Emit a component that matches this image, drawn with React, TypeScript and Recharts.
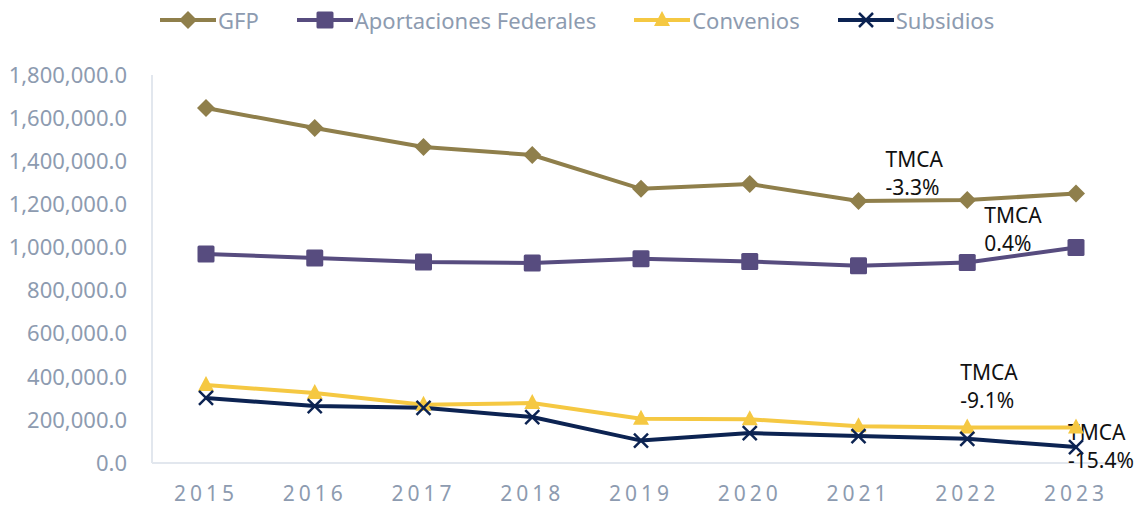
import React from "react";
import {
  LineChart,
  Line,
  XAxis,
  YAxis,
  Legend,
  ReferenceDot,
} from "recharts";

const years = ["2015", "2016", "2017", "2018", "2019", "2020", "2021", "2022", "2023"];
const gfp = [1647000, 1554000, 1466000, 1429000, 1272000, 1294000, 1216000, 1220000, 1250000];
const aportaciones = [970000, 951000, 932000, 928000, 948000, 935000, 915000, 930000, 1000000];
const convenios = [362000, 325000, 270000, 278000, 205000, 203000, 170000, 165000, 165000];
const subsidios = [302000, 264000, 256000, 213000, 104000, 139000, 125000, 112000, 74000];
const yTicks = [0, 200000, 400000, 600000, 800000, 1000000, 1200000, 1400000, 1600000, 1800000];
const tmca = ["-3.3%", "0.4%", "-9.1%", "-15.4%"];

const data = years.map((year, i) => ({
  year,
  GFP: gfp[i],
  "Aportaciones Federales": aportaciones[i],
  Convenios: convenios[i],
  Subsidios: subsidios[i],
}));

const FONT = "'Noto Sans', 'Open Sans', sans-serif";
const AXIS_TEXT = "#8D9BB0";
const AXIS_LINE = "#E2E7EE";

const series = [
  { key: "GFP", color: "#8F7F4B", shape: "diamond" },
  { key: "Aportaciones Federales", color: "#574C7F", shape: "square" },
  { key: "Convenios", color: "#F5C842", shape: "triangle" },
  { key: "Subsidios", color: "#0C2352", shape: "cross" },
];

function Marker({ shape, cx, cy, color }: { shape: string; cx: number; cy: number; color: string }) {
  if (shape === "diamond") {
    return (
      <polygon
        points={`${cx},${cy - 9} ${cx + 9},${cy} ${cx},${cy + 9} ${cx - 9},${cy}`}
        fill={color}
      />
    );
  }
  if (shape === "square") {
    return <rect x={cx - 8.5} y={cy - 8.5} width={17} height={17} rx={1.5} fill={color} />;
  }
  if (shape === "triangle") {
    return (
      <polygon
        points={`${cx},${cy - 9} ${cx + 8},${cy + 6} ${cx - 8},${cy + 6}`}
        fill={color}
      />
    );
  }
  return (
    <g stroke={color} strokeWidth={2.5}>
      <line x1={cx - 7} y1={cy - 7} x2={cx + 7} y2={cy + 7} />
      <line x1={cx - 7} y1={cy + 7} x2={cx + 7} y2={cy - 7} />
    </g>
  );
}

function makeDot(shape: string, color: string) {
  return (props: any) => {
    const { cx, cy, index } = props;
    if (cx == null || cy == null) return <g key={`d-${index}`} />;
    return (
      <g key={`d-${shape}-${index}`}>
        <Marker shape={shape} cx={cx} cy={cy} color={color} />
      </g>
    );
  };
}

function LegendContent() {
  return (
    <div
      style={{
        display: "flex",
        alignItems: "center",
        height: 40,
        paddingLeft: 160,
        fontFamily: FONT,
        fontSize: 22,
        color: AXIS_TEXT,
      }}
    >
      {series.map((s) => (
        <div key={s.key} style={{ display: "flex", alignItems: "center", marginRight: 38 }}>
          <svg width={56} height={22} style={{ marginRight: 2 }}>
            <line x1={0} y1={11} x2={56} y2={11} stroke={s.color} strokeWidth={4} />
            <Marker shape={s.shape} cx={28} cy={11} color={s.color} />
          </svg>
          <span>{s.key}</span>
        </div>
      ))}
    </div>
  );
}

function tmcaLabel(text: string, dx: number, dy: number) {
  return (props: any) => {
    const vb = props.viewBox || {};
    const x = vb.x + dx;
    const y = vb.y + dy;
    return (
      <g>
        <text x={x} y={y} fill="#111" fontSize={21} fontFamily={FONT} dominantBaseline="central">
          TMCA
        </text>
        <text x={x} y={y + 28} fill="#111" fontSize={21} fontFamily={FONT} dominantBaseline="central">
          {text}
        </text>
      </g>
    );
  };
}

const fmt = (v: number) =>
  v.toLocaleString("en-US", { minimumFractionDigits: 1, maximumFractionDigits: 1 });

export default function App() {
  return (
    <div style={{ position: "absolute", left: 0, top: 0, width: 1138, height: 506, background: "#fff" }}>
      <LineChart
        width={1138}
        height={506}
        data={data}
        margin={{ top: 35, right: 8, left: 0, bottom: 0 }}
      >
        <Legend
          verticalAlign="top"
          align="left"
          content={<LegendContent />}
          wrapperStyle={{ top: 0, left: 0, width: 1138 }}
        />
        <XAxis
          dataKey="year"
          height={43}
          padding={{ left: 54, right: 54 }}
          axisLine={{ stroke: AXIS_LINE, strokeWidth: 2 }}
          tickLine={false}
          tickSize={0}
          tickMargin={23}
          tick={{ fill: AXIS_TEXT, fontSize: 21, fontFamily: FONT, letterSpacing: 4 }}
        />
        <YAxis
          width={152}
          domain={[0, 1800000]}
          ticks={yTicks}
          tickFormatter={fmt}
          axisLine={{ stroke: AXIS_LINE, strokeWidth: 2 }}
          tickLine={false}
          tickSize={0}
          tickMargin={25}
          tick={{ fill: AXIS_TEXT, fontSize: 22, fontFamily: FONT }}
        />
        {series.map((s) => (
          <Line
            key={s.key}
            dataKey={s.key}
            stroke={s.color}
            strokeWidth={4}
            dot={makeDot(s.shape, s.color)}
            activeDot={false}
            isAnimationActive={false}
          />
        ))}
        <ReferenceDot x="2021" y={gfp[6]} r={0} label={tmcaLabel(tmca[0], 27, -42)} />
        <ReferenceDot x="2022" y={aportaciones[7]} r={0} label={tmcaLabel(tmca[1], 17, -48)} />
        <ReferenceDot x="2022" y={convenios[7]} r={0} label={tmcaLabel(tmca[2], -7, -55)} />
        <ReferenceDot x="2023" y={subsidios[8]} r={0} label={tmcaLabel(tmca[3], -8, -15)} />
      </LineChart>
    </div>
  );
}
